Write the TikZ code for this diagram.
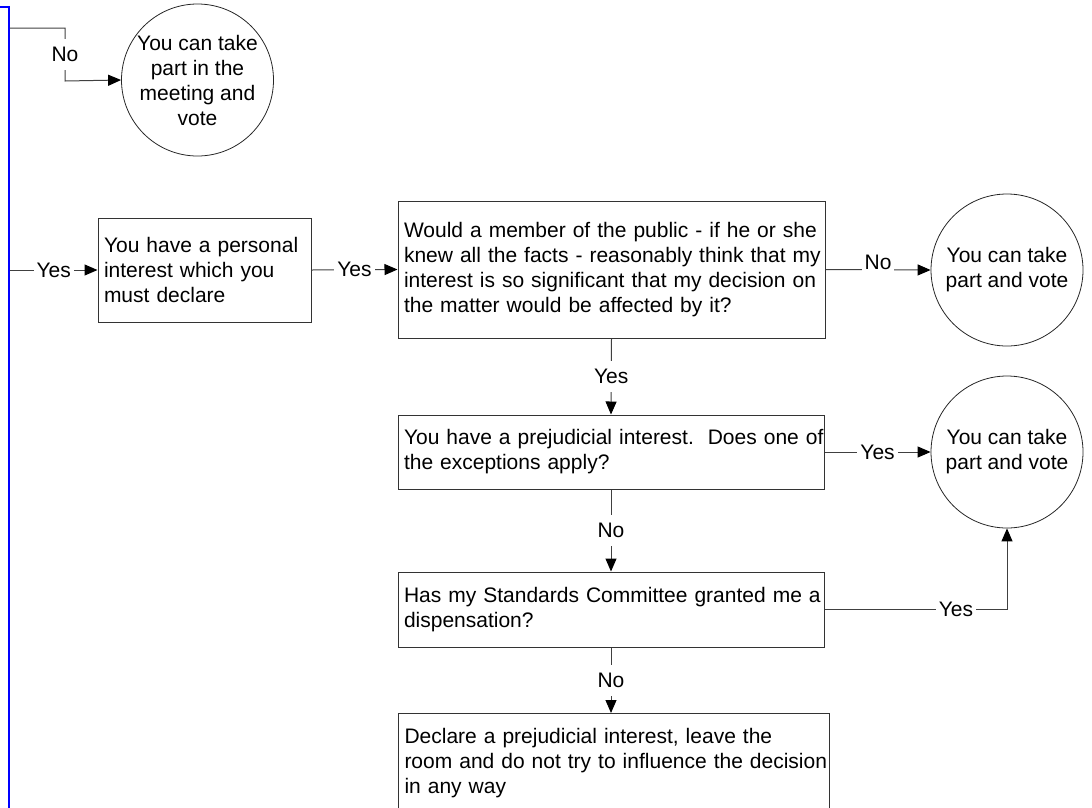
\documentclass[tikz,border=0pt]{standalone}
\usepackage{fontspec}
\setmainfont{Liberation Sans}
\usetikzlibrary{arrows.meta}
\begin{document}
\begin{tikzpicture}[x=1pt,y=-1pt,
  every node/.style={font=\fontsize{21}{25}\selectfont},
  box/.style={draw=black!80, line width=1pt, align=left, inner xsep=6pt, inner ysep=0pt},
  circ/.style={draw=black!85, circle, line width=0.8pt, minimum size=152pt, inner sep=0pt, align=center},
  conn/.style={draw=black!75, line width=1pt, -{Triangle[length=13pt,width=11pt,black]}},
  lbl/.style={fill=white, inner xsep=3pt, inner ysep=8pt, text=black}]
\path[use as bounding box] (0,0) rectangle (1092,807);
\clip (0,0) rectangle (1092,807);

% blue edge
\draw[blue, line width=2pt] (0,7) -- (9,7) -- (9,810);
\coordinate (l1) at (10,28);
\coordinate (l2) at (10,270);

% nodes
\node[circ] (c1) at (197.5,80) {You can take\\part in the\\meeting and\\vote};
\node[box, text width=201pt, minimum height=104pt] (b1) at (204.5,270)
  {\mbox{You have a personal}\\\mbox{interest which you}\\\mbox{must declare}};
\node[box, text width=415pt, minimum height=137pt] (b2) at (611.5,269.5)
  {\mbox{Would a member of the public - if he or she}\\\mbox{knew all the facts - reasonably think that my}\\\mbox{interest is so significant that my decision on}\\\mbox{the matter would be affected by it?}};
\node[circ] (c2) at (1007,270) {You can take\\part and vote};
\node[box, text width=414pt, minimum height=74pt] (b3) at (611,452)
  {\mbox{You have a prejudicial interest.~~Does one of}\\\mbox{the exceptions apply?}};
\node[circ] (c3) at (1007,452) {You can take\\part and vote};
\node[box, text width=414pt, minimum height=75pt] (b4) at (611,609.5)
  {\mbox{Has my Standards Committee granted me a}\\\mbox{dispensation?}};
\node[box, text width=419pt, minimum height=100pt, anchor=north west] (b5) at (398,713)
  {\mbox{Declare a prejudicial interest, leave the}\\\mbox{room and do not try to influence the decision}\\\mbox{in any way}};

% connectors
\draw[conn] (l1) -- ++(55,0) -- node[lbl]{No} ++(0,53) -- (c1.west);
\draw[conn] (l2) -- node[lbl]{Yes} (b1.west);
\draw[conn] (b1.east) -- node[lbl]{Yes} (b2.west);
\draw[conn] (b2.east) -- node[lbl, yshift=7pt]{No} (c2.west);
\draw[conn] (b2.south) -- node[lbl]{Yes} (b3.north);
\draw[conn] (b3.east) -- node[lbl]{Yes} (c3.west);
\draw[conn] (b3.south) -- node[lbl]{No} (b4.north);
\draw[conn] (b4.east) -- node[lbl, pos=0.72]{Yes} (c3.south |- b4.east) -- (c3.south);
\draw[conn] (b4.south) -- node[lbl]{No} (b5.north -| b4.south);
\end{tikzpicture}
\end{document}
